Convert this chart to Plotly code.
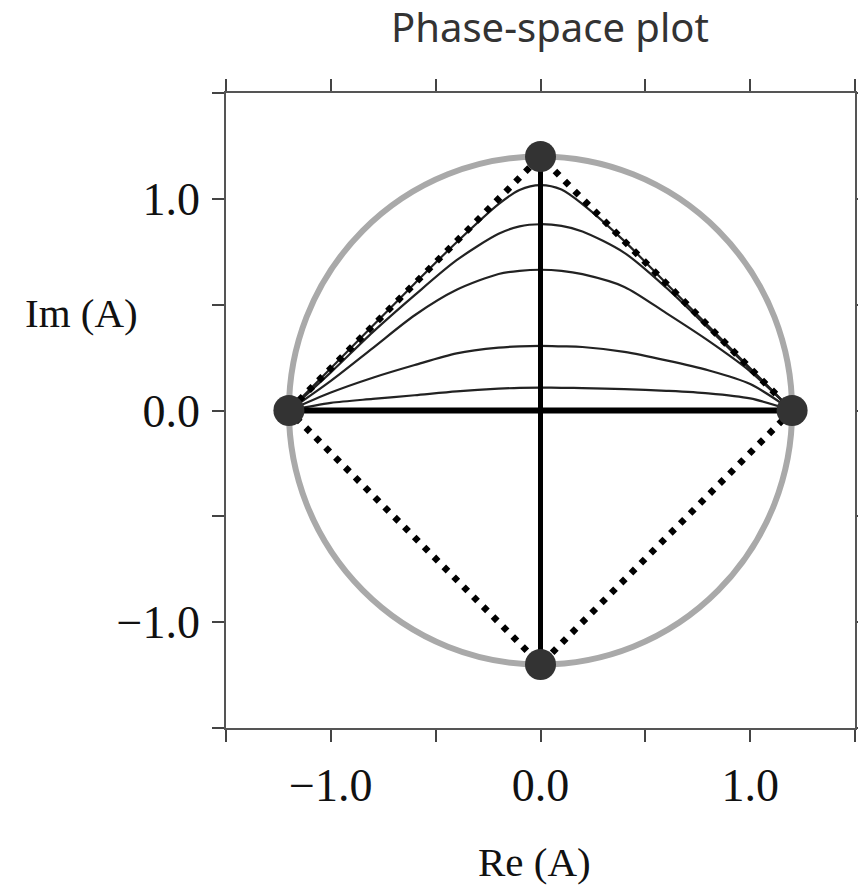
import plotly.graph_objects as go

# ---- data ----
radius = 1.2
corner_x = [-1.2, 0.0, 1.2, 0.0]
corner_y = [0.0, 1.2, 0.0, -1.2]

diamond_x = [-1.2, 0.0, 1.2, 0.0, -1.2]
diamond_y = [0.0, 1.2, 0.0, -1.2, 0.0]

hline_x = [-1.2, 1.2]
hline_y = [0.0, 0.0]
vline_x = [0.0, 0.0]
vline_y = [1.2, -1.2]

curve_x = [-1.2, -1.0, -0.8, -0.6, -0.4, -0.2, -0.1, 0.0, 0.1, 0.2, 0.4, 0.6, 0.8, 1.0, 1.2]
curve1_y = [0.0, 0.20, 0.40, 0.60, 0.795, 0.975, 1.042, 1.065, 1.044, 0.975, 0.80, 0.60, 0.40, 0.20, 0.0]
curve2_y = [0.0, 0.18, 0.37, 0.545, 0.71, 0.835, 0.870, 0.880, 0.872, 0.846, 0.745, 0.58, 0.39, 0.195, 0.0]
curve3_y = [0.0, 0.14, 0.295, 0.45, 0.57, 0.645, 0.660, 0.665, 0.660, 0.644, 0.584, 0.46, 0.33, 0.185, 0.0]
curve4_y = [0.0, 0.085, 0.155, 0.215, 0.27, 0.297, 0.303, 0.305, 0.303, 0.300, 0.277, 0.237, 0.19, 0.125, 0.0]
curve5_y = [0.0, 0.036, 0.055, 0.072, 0.09, 0.103, 0.107, 0.108, 0.107, 0.106, 0.101, 0.093, 0.081, 0.057, 0.0]
curves_y = [curve1_y, curve2_y, curve3_y, curve4_y, curve5_y]

tick_vals = [-1.5, -1.0, -0.5, 0.0, 0.5, 1.0, 1.5]
tick_text = ["", "\u22121.0", "", "0.0", "", "1.0", ""]

title_text = "Phase-space plot"
x_label = "Re (A)"
y_label = "Im (A)"

# ---- figure ----
fig = go.Figure()

fig.add_shape(type="circle", xref="x", yref="y",
              x0=-radius, x1=radius, y0=-radius, y1=radius,
              line=dict(color="#a9a9a9", width=6), layer="below")

for cy in curves_y:
    fig.add_trace(go.Scatter(x=curve_x, y=cy, mode="lines",
                             line=dict(color="#222222", width=2.2, shape="spline", smoothing=0.8),
                             hoverinfo="skip", showlegend=False))

fig.add_trace(go.Scatter(x=diamond_x, y=diamond_y, mode="lines",
                         line=dict(color="black", width=6.5, dash="6px,8px"),
                         showlegend=False))
fig.add_trace(go.Scatter(x=hline_x, y=hline_y, mode="lines",
                         line=dict(color="black", width=6), showlegend=False))
fig.add_trace(go.Scatter(x=vline_x, y=vline_y, mode="lines",
                         line=dict(color="black", width=5), showlegend=False))
fig.add_trace(go.Scatter(x=corner_x, y=corner_y, mode="markers",
                         marker=dict(color="#333333", size=31, line=dict(width=0)),
                         showlegend=False))

axis_common = dict(
    range=[-1.5, 1.5], showgrid=False, zeroline=False, automargin=False,
    showline=True, linecolor="#555555", linewidth=1.5, mirror="ticks",
    ticks="outside", ticklen=12, tickwidth=1.5, tickcolor="#444444",
    tickmode="array", tickvals=tick_vals, ticktext=tick_text,
    tickfont=dict(family="Liberation Serif", size=46, color="#111111"),
)

fig.update_layout(
    width=858, height=885,
    margin=dict(l=226, r=3, t=93, b=157),
    plot_bgcolor="white", paper_bgcolor="white",
    xaxis=dict(**axis_common, ticklabelstandoff=4),
    yaxis=dict(**axis_common, ticklabelstandoff=3),
    title=dict(text=title_text, x=550/858, xanchor="center", y=1 - 28/885, yanchor="middle",
               automargin=False,
               font=dict(family="Noto Sans", size=40, color="#333333")),
    annotations=[
        dict(text=x_label, xref="paper", yref="paper", x=0.491, y=-0.211,
             showarrow=False, xanchor="center", yanchor="middle",
             font=dict(family="Liberation Serif", size=41, color="#111111")),
        dict(text=y_label, xref="paper", yref="paper", x=-0.2305, y=0.6535,
             showarrow=False, xanchor="center", yanchor="middle",
             font=dict(family="Liberation Serif", size=41, color="#111111")),
    ],
)

post = ("document.body.style.margin='0px';"
        "document.body.style.overflow='hidden';"
        "var gd=document.getElementById('{plot_id}');"
        "if(window.Plotly&&gd){Plotly.relayout(gd,{width:858,height:885});}")

fig.write_html("out.html", post_script=post, config={"displayModeBar": False})
